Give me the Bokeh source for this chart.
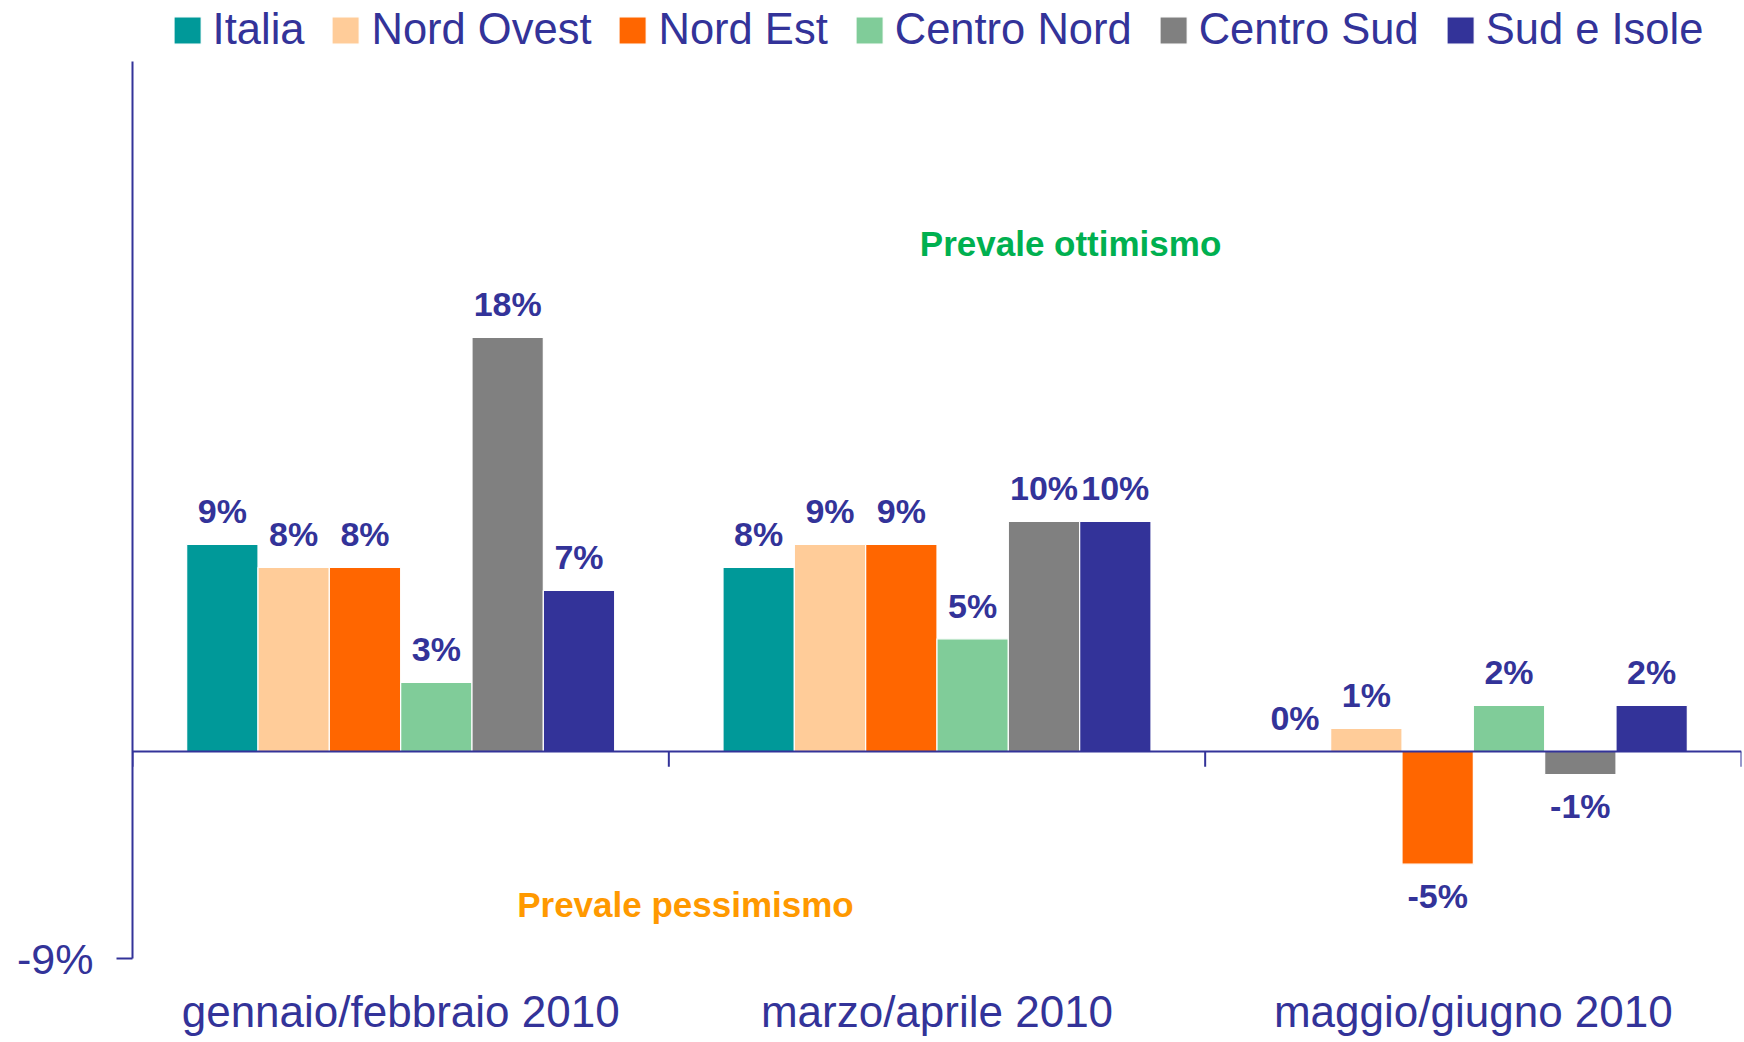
from bokeh.plotting import figure
from bokeh.models import (FactorRange, Range1d, FixedTicker, PrintfTickFormatter,
                          ColumnDataSource, Label, Legend, LegendItem, Span)
from bokeh.transform import dodge
from bokeh.core.properties import value
from bokeh.embed import file_html
from bokeh.resources import INLINE

periods = ["gennaio/febbraio 2010", "marzo/aprile 2010", "maggio/giugno 2010"]
series_names = ["Italia", "Nord Ovest", "Nord Est", "Centro Nord", "Centro Sud", "Sud e Isole"]
italia = [9, 8, 0]
nord_ovest = [8, 9, 1]
nord_est = [8, 9, -4.9]
centro_nord = [3, 4.9, 2]
centro_sud = [18, 10, -1]
sud_isole = [7, 10, 2]
series_values = [italia, nord_ovest, nord_est, centro_nord, centro_sud, sud_isole]
colors = ["#009999", "#FFCC99", "#FF6600", "#80CC99", "#808080", "#333399"]
y_min, y_max = -9, 30

TXT = "#333399"
FONT = "Liberation Sans"

p = figure(x_range=FactorRange(*periods, range_padding=0, factor_padding=0),
           y_range=Range1d(y_min, 32.65),
           width=1742, height=1040, output_backend="svg", toolbar_location=None,
           min_border_left=132, min_border_right=1, min_border_top=0, min_border_bottom=82)
p.outline_line_color = None
p.xgrid.grid_line_color = None
p.ygrid.grid_line_color = None
p.background_fill_color = "white"

bw = 0.133
items = []
for i, (name, vals, col) in enumerate(zip(series_names, series_values, colors)):
    off = (i - 2.5) * bw
    src = ColumnDataSource(dict(
        period=periods,
        val=vals,
        lab=[f"{v:.0f}%" for v in vals],
        yoff=[-33 if v >= 0 else 32 for v in vals],
    ))
    r = p.vbar(x=dodge("period", off, range=p.x_range), top="val", bottom=0, width=bw,
               source=src, fill_color=col, line_color="white", line_width=1.2)
    p.text(x=dodge("period", off, range=p.x_range), y="val", text="lab", y_offset="yoff",
           source=src, text_align="center", text_baseline="alphabetic",
           text_font=value(FONT), text_font_style="bold", text_font_size="34px",
           text_color=TXT)
    items.append(LegendItem(label=name, renderers=[r]))

# zero line and group-boundary ticks
p.add_layout(Span(location=0, dimension="width", line_color=TXT, line_width=2))
bounds = list(range(len(periods) + 1))
p.segment(x0=bounds, y0=[0] * len(bounds), x1=bounds, y1=[-0.66] * len(bounds),
          line_color=TXT, line_width=2)

# y axis
ya = p.yaxis[0]
ya.bounds = (y_min, y_max)
ya.ticker = FixedTicker(ticks=[y_min])
ya.formatter = PrintfTickFormatter(format="%d%%")
ya.axis_line_color = TXT
ya.axis_line_width = 2
ya.major_tick_line_color = TXT
ya.major_tick_line_width = 2
ya.major_tick_out = 16
ya.major_tick_in = 0
ya.minor_tick_line_color = None
ya.major_label_standoff = 23
ya.major_label_text_font = FONT
ya.major_label_text_font_size = "43px"
ya.major_label_text_color = TXT

# category labels at the bottom
xa = p.xaxis[0]
xa.axis_line_color = None
xa.major_tick_line_color = None
xa.major_tick_out = 0
xa.major_tick_in = 0
xa.major_label_standoff = 28
xa.major_label_text_font = FONT
xa.major_label_text_font_size = "44px"
xa.major_label_text_color = TXT

p.add_layout(Label(x=1.749, y=22.1, text="Prevale ottimismo", text_align="center",
                   text_baseline="middle", text_font=FONT, text_font_style="bold",
                   text_font_size="35px", text_color="#00B050"))
p.add_layout(Label(x=1.031, y=-6.65, text="Prevale pessimismo", text_align="center",
                   text_baseline="middle", text_font=FONT, text_font_style="bold",
                   text_font_size="35px", text_color="#FF9900"))

legend = Legend(items=items, orientation="horizontal", location="top_center",
                label_text_font=FONT, label_text_font_size="43.5px", label_text_color=TXT,
                glyph_width=34, glyph_height=34, label_standoff=9, spacing=24,
                padding=0, margin=5, border_line_color=None, background_fill_alpha=0)
p.add_layout(legend)

open("out.html", "w").write(file_html(p, INLINE))
